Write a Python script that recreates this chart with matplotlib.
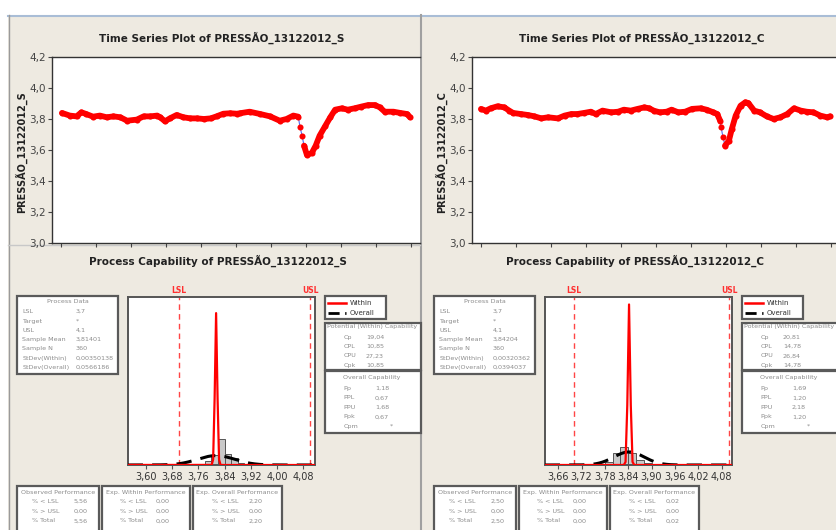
import numpy as np
import matplotlib
matplotlib.use('Agg')
import matplotlib.pyplot as plt
from matplotlib.patches import Rectangle
from matplotlib.lines import Line2D
from matplotlib.ticker import FuncFormatter

# time series (index, pressure)
idx_s = [2, 10, 17, 22, 27, 34, 41, 48, 55, 62, 69, 79, 86, 93, 100, 103, 108, 113, 120, 127,
         134, 141, 148, 155, 161, 168, 175, 182, 185, 195, 206, 216, 226, 233, 240, 245, 247, 249,
         251, 254, 259, 263, 267, 273, 278, 283, 290, 296, 303, 310, 317, 324, 329, 334, 343, 350,
         357, 360]
val_s = [3.839, 3.822, 3.817, 3.843, 3.832, 3.815, 3.822, 3.811, 3.817, 3.811, 3.789, 3.796, 3.817,
         3.817, 3.822, 3.811, 3.785, 3.804, 3.826, 3.811, 3.804, 3.804, 3.800, 3.804, 3.817, 3.834,
         3.837, 3.834, 3.837, 3.847, 3.832, 3.817, 3.789, 3.800, 3.822, 3.815, 3.746, 3.692, 3.628,
         3.568, 3.581, 3.628, 3.692, 3.757, 3.811, 3.860, 3.869, 3.860, 3.869, 3.880, 3.890, 3.890,
         3.875, 3.847, 3.847, 3.839, 3.832, 3.811]

idx_c = [1, 6, 11, 18, 25, 30, 34, 42, 49, 56, 63, 70, 80, 87, 94, 100, 107, 114, 119, 126, 135,
         142, 148, 155, 162, 169, 174, 179, 185, 192, 197, 204, 211, 218, 227, 233, 240, 244, 247,
         248, 250, 252, 256, 259, 263, 268, 273, 276, 282, 288, 295, 302, 309, 316, 323, 330, 336,
         343, 350, 357, 360]
val_c = [3.865, 3.854, 3.869, 3.882, 3.875, 3.854, 3.839, 3.832, 3.826, 3.817, 3.804, 3.811, 3.804,
         3.822, 3.832, 3.832, 3.839, 3.847, 3.832, 3.854, 3.843, 3.847, 3.860, 3.854, 3.865, 3.875,
         3.869, 3.853, 3.843, 3.847, 3.860, 3.843, 3.847, 3.865, 3.869, 3.860, 3.843, 3.832, 3.789,
         3.746, 3.681, 3.628, 3.660, 3.735, 3.822, 3.886, 3.908, 3.903, 3.854, 3.843, 3.817, 3.800,
         3.811, 3.832, 3.869, 3.854, 3.847, 3.843, 3.822, 3.811, 3.817]

# histogram counts (bins of 0.02)
hist_start_s = 3.56
hist_counts_s = [5, 3, 3, 2, 2, 2, 3, 2, 2, 3, 4, 22, 54, 139, 61, 36, 12]
hist_start_c = 3.62
hist_counts_c = [3, 2, 2, 2, 2, 2, 2, 3, 17, 65, 98, 65, 28, 11, 5]

# capability statistics (as printed)
lsl, usl, n_obs = 3.7, 4.1, 360
mean_s, sd_within_s, sd_overall_s = 3.81401, 0.00350138, 0.0566186
mean_c, sd_within_c, sd_overall_c = 3.84204, 0.00320362, 0.0394037

proc_labels = ['LSL', 'Target', 'USL', 'Sample Mean', 'Sample N', 'StDev(Within)', 'StDev(Overall)']
proc_vals_s = ['3,7', '*', '4,1', '3,81401', '360', '0,00350138', '0,0566186']
proc_vals_c = ['3,7', '*', '4,1', '3,84204', '360', '0,00320362', '0,0394037']
pot_labels = ['Cp', 'CPL', 'CPU', 'Cpk']
pot_vals_s = ['19,04', '10,85', '27,23', '10,85']
pot_vals_c = ['20,81', '14,78', '26,84', '14,78']
ovr_labels = ['Pp', 'PPL', 'PPU', 'Ppk', 'Cpm']
ovr_vals_s = ['1,18', '0,67', '1,68', '0,67', '*']
ovr_vals_c = ['1,69', '1,20', '2,18', '1,20', '*']
perf_labels = ['% < LSL', '% > USL', '% Total']
obs_s, within_s, overall_s = ['5,56', '0,00', '5,56'], ['0,00', '0,00', '0,00'], ['2,20', '0,00', '2,20']
obs_c, within_c, overall_c = ['2,50', '0,00', '2,50'], ['0,00', '0,00', '0,00'], ['0,02', '0,00', '0,02']
hist_ticks_s = [3.60, 3.68, 3.76, 3.84, 3.92, 4.00, 4.08]
hist_ticks_c = [3.66, 3.72, 3.78, 3.84, 3.90, 3.96, 4.02, 4.08]

W, H = 836, 530
BEIGE = '#eeeae1'
TXT = '#8c8c8c'
fig = plt.figure(figsize=(W / 100, H / 100), dpi=100, facecolor='white')


def T(x, y, s, **kw):
    kw.setdefault('va', 'center')
    return fig.text(x / W, 1 - y / H, s, **kw)


def rect(x0, y0, x1, y1, **kw):
    fig.add_artist(Rectangle((x0 / W, 1 - y1 / H), (x1 - x0) / W, (y1 - y0) / H,
                             transform=fig.transFigure, **kw))


def line(xs, ys, **kw):
    fig.add_artist(Line2D([x / W for x in xs], [1 - y / H for y in ys], transform=fig.transFigure, **kw))


def add_ax(x0, y0, x1, y1):
    return fig.add_axes([x0 / W, 1 - y1 / H, (x1 - x0) / W, (y1 - y0) / H])


comma = lambda d: FuncFormatter(lambda v, p: f'{v:.{d}f}'.replace('.', ','))


def normal(x, mu, sd):
    return n_obs * 0.02 * np.exp(-0.5 * ((x - mu) / sd) ** 2) / (sd * np.sqrt(2 * np.pi))


# window backgrounds
for x0, y0, x1, y1 in [(8, 15, 420, 245), (422, 15, 836, 245), (8, 245, 420, 530), (422, 245, 836, 530)]:
    rect(x0, y0, x1, y1, facecolor=BEIGE, edgecolor='none', zorder=-5)
line([8, 836], [15.5, 15.5], color='#a9bdd6', lw=1.5, zorder=-4)
line([8.5, 8.5], [15, 530], color='#9a9a9a', lw=1, zorder=-4)
line([421, 421], [15, 530], color='#a0a0a0', lw=1.5, zorder=-4)
line([8, 420], [245, 245], color='#c8c8c8', lw=1, zorder=-4)

# ---- time series panels ----
for dx, idx, vals, name in [(0, idx_s, val_s, 'PRESSÃO_13122012_S'),
                            (420, idx_c, val_c, 'PRESSÃO_13122012_C')]:
    ax = add_ax(52 + dx, 57, 420 + dx, 243)
    ax.set_facecolor('white')
    ax.plot(idx, vals, color='#4f6df5', lw=0.8, zorder=2)
    xs, ys = [], []
    for i in range(len(idx)):
        if i > 0 and abs(vals[i] - vals[i - 1]) / (idx[i] - idx[i - 1]) > 0.026:
            xs.append(np.nan)
            ys.append(np.nan)
        xs.append(idx[i])
        ys.append(vals[i])
    ax.plot(xs, ys, color='red', lw=4.2, solid_capstyle='round', zorder=3)
    ax.plot(idx, vals, 'o', color='red', ms=4.4, mew=0, zorder=4)
    ax.set_xlim(-8.26, 370.3)
    ax.set_ylim(3.0, 4.2)
    ax.set_yticks(np.arange(3.0, 4.21, 0.2))
    ax.yaxis.set_major_formatter(comma(1))
    ax.set_xticks(np.arange(1, 362, 36))
    ax.tick_params(axis='x', labelbottom=False, length=3, color='#444')
    ax.tick_params(axis='y', labelsize=7.5, labelcolor='#444', length=3, pad=1.5, color='#444')
    ax.spines['right'].set_visible(False)
    for s in ['left', 'top', 'bottom']:
        ax.spines[s].set_color('#333')
        ax.spines[s].set_linewidth(1)
    T(221.7 + dx, 38, 'Time Series Plot of ' + name, ha='center', fontsize=7.5, fontweight='bold', color='#222')
    T(20.7 + dx, 152, name, ha='center', rotation=90, fontsize=7, fontweight='bold', color='#222')

# ---- capability panels ----
cap_panels = [
    (0, 'PRESSÃO_13122012_S', hist_start_s, hist_counts_s, mean_s, sd_within_s, sd_overall_s,
     (3.545, 4.115), 909, hist_ticks_s, proc_vals_s, pot_vals_s, ovr_vals_s, obs_s, within_s, overall_s),
    (417, 'PRESSÃO_13122012_C', hist_start_c, hist_counts_c, mean_c, sd_within_c, sd_overall_c,
     (3.625, 4.107), 940, hist_ticks_c, proc_vals_c, pot_vals_c, ovr_vals_c, obs_c, within_c, overall_c),
]

for (dx, name, h0, counts, mu, sw, so, xlim, ytop, ticks,
     pvals, potv, ovrv, obsv, withv, ovv) in cap_panels:
    T(218 + dx, 261, 'Process Capability of ' + name, ha='center', fontsize=7.5, fontweight='bold', color='#222')

    ax = add_ax(127.7 + dx, 296.7, 315 + dx, 465)
    ax.set_facecolor('white')
    edges = h0 + 0.02 * np.arange(len(counts))
    ax.bar(edges, counts, width=0.02, align='edge', color='#c9c9c9', edgecolor='#555', lw=0.7, zorder=2)
    x = np.linspace(xlim[0], xlim[1], 2000)
    ax.plot(x, normal(x, mu, so), color='black', lw=2.2, dashes=(5, 3), zorder=3)
    # within curve on a coarse grid through the mean, like the Minitab rendering
    xw = mu + 0.0045 * np.arange(-130, 131)
    ax.plot(xw, normal(xw, mu, sw), color='red', lw=1.6, zorder=4)
    for v in (lsl, usl):
        ax.axvline(v, color='#ff4545', lw=1, dashes=(4, 3), zorder=1)
    ax.set_xlim(*xlim)
    ax.set_ylim(0, ytop)
    ax.set_yticks([])
    ax.set_xticks(ticks)
    ax.xaxis.set_major_formatter(comma(2))
    ax.tick_params(axis='x', labelsize=7, labelcolor='#333', length=3, pad=2, color='#555')
    for s in ax.spines.values():
        s.set_color('#555')
        s.set_linewidth(1.4)
    # spec labels above the plot
    for v, lab in ((lsl, 'LSL'), (usl, 'USL')):
        xp = ax.transData.transform((v, 0))[0] / fig.dpi / fig.get_size_inches()[0] * W
        T(xp, 290.5, lab, ha='center', fontsize=5.5, color='#ff3030', fontweight='bold')

    # Process Data box
    rect(17.3 + dx, 295.7, 118.3 + dx, 374.3, facecolor='white', edgecolor='#5a5a5a', lw=1.6, zorder=2)
    T(67.8 + dx, 301.7, 'Process Data', ha='center', fontsize=4.6, color=TXT, zorder=3)
    for k, (lab, val) in enumerate(zip(proc_labels, pvals)):
        yy = 311.7 + 9.3 * k
        T(22.3 + dx, yy, lab, fontsize=4.6, color=TXT, zorder=3)
        T(76 + dx, yy, val, fontsize=4.6, color=TXT, zorder=3)

    # legend box
    rect(325 + dx, 295.7, 386 + dx, 319, facecolor='white', edgecolor='#5a5a5a', lw=1.6, zorder=2)
    line([328 + dx, 346 + dx], [302.7, 302.7], color='red', lw=1.8, zorder=3)
    line([328 + dx, 346 + dx], [313.3, 313.3], color='black', lw=2, dashes=(4, 2), zorder=3)
    T(350 + dx, 302.7, 'Within', fontsize=5, color='#333', zorder=3)
    T(350 + dx, 313.3, 'Overall', fontsize=5, color='#333', zorder=3)

    # Potential / Overall capability boxes (cut off by the window edge)
    xr = 421 + dx
    rect(325 + dx, 322.7, xr, 370, facecolor='white', edgecolor='#5a5a5a', lw=1.6, zorder=2)
    T(371.7 + dx, 326.7, 'Potential (Within) Capability', ha='center', fontsize=4.6, color=TXT, zorder=3)
    for k, (lab, val) in enumerate(zip(pot_labels, potv)):
        yy = 337.3 + 9.3 * k
        T(343.3 + dx, yy, lab, fontsize=4.6, color=TXT, zorder=3)
        T(366 + dx, yy, val, fontsize=4.6, color=TXT, zorder=3)
    rect(325 + dx, 371, xr, 433.3, facecolor='white', edgecolor='#5a5a5a', lw=1.6, zorder=2)
    T(371.7 + dx, 377.3, 'Overall Capability', ha='center', fontsize=4.6, color=TXT, zorder=3)
    for k, (lab, val) in enumerate(zip(ovr_labels, ovrv)):
        yy = 388.3 + 9.5 * k
        T(343.3 + dx, yy, lab, fontsize=4.6, color=TXT, zorder=3)
        T((390 if val == '*' else 375) + dx, yy, val, fontsize=4.6, color=TXT, zorder=3)

    # performance boxes
    for x0, x1, title, vals, lx, vx in [(17.3, 99, 'Observed Performance', obsv, 31.7, 73.3),
                                        (101.7, 190, 'Exp. Within Performance', withv, 120, 155.7),
                                        (192.7, 282.3, 'Exp. Overall Performance', ovv, 211.7, 248.3)]:
        rect(x0 + dx, 485.7, x1 + dx, 534, facecolor='white', edgecolor='#5a5a5a', lw=1.6, zorder=2)
        T((x0 + x1) / 2 + dx, 492.3, title, ha='center', fontsize=4.6, color=TXT, zorder=3)
        for k, (lab, val) in enumerate(zip(perf_labels, vals)):
            yy = 501.7 + 9.6 * k
            T(lx + dx, yy, lab, fontsize=4.6, color=TXT, zorder=3)
            T(vx + dx, yy, val, fontsize=4.6, color=TXT, zorder=3)

fig.savefig('out.png', dpi=100, facecolor='white')
